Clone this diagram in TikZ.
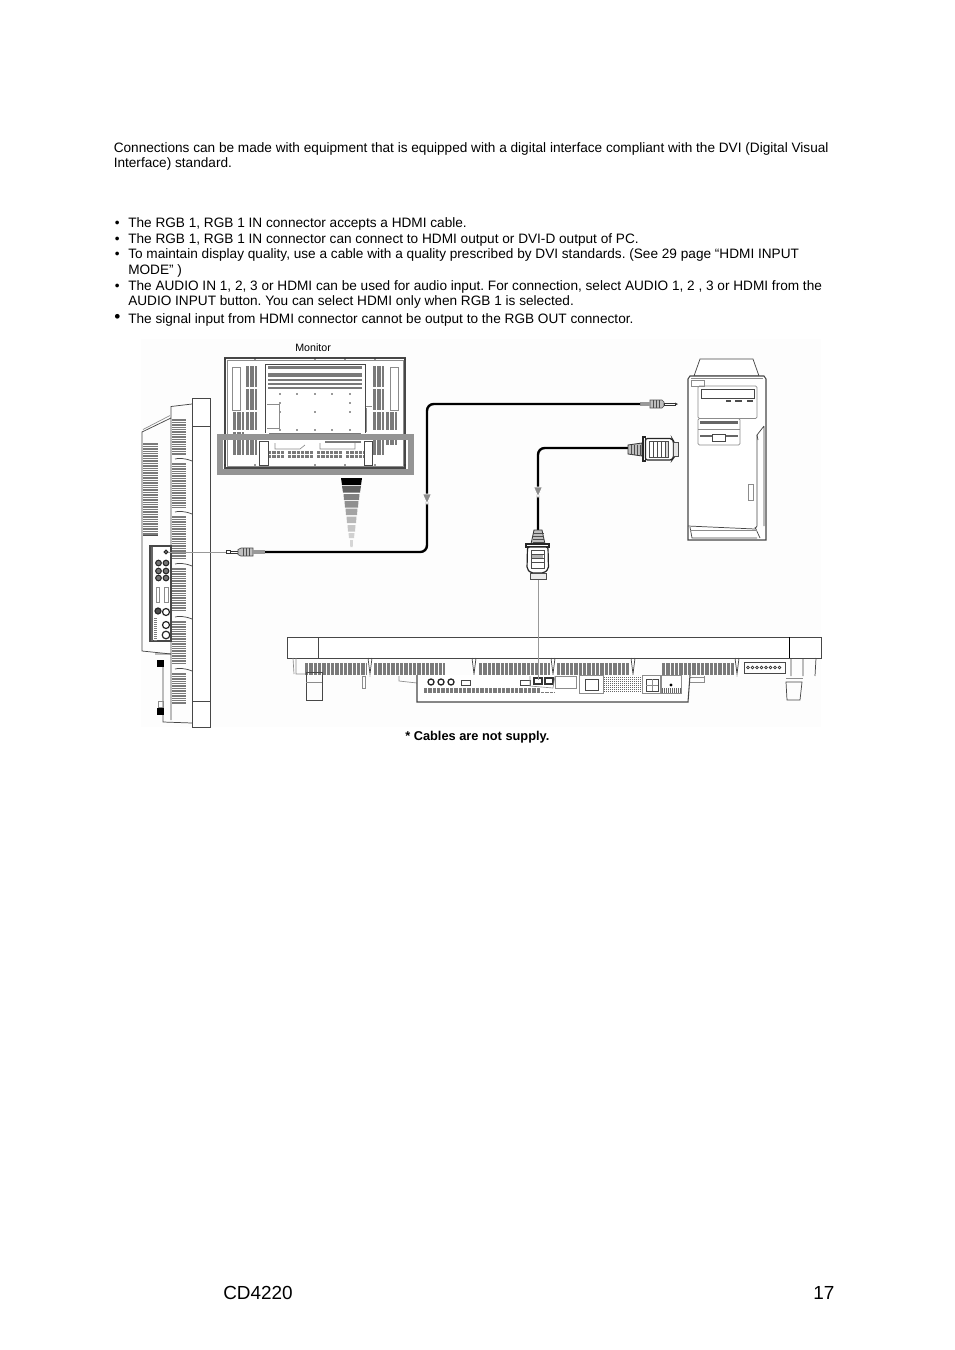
\documentclass[tikz,border=0pt]{standalone}
\usepackage{fontspec}
\setmainfont{Liberation Sans}
\frenchspacing
\newcommand{\vhat}[5]{\pgfmathsetmacro{\qn}{#1+#5}\foreach \qx in {#1,\qn,...,#2}{\draw[hatchline] (\qx,#3) -- (\qx,#4);}}
\newcommand{\hhat}[5]{\pgfmathsetmacro{\qn}{#3+#5}\foreach \qy in {#3,\qn,...,#4}{\draw[hatchline] (#1,\qy) -- (#2,\qy);}}
\tikzset{
  body/.style={anchor=base west,inner sep=0pt,font=\fontsize{10.22}{12}\selectfont},
  big/.style={anchor=base west,inner sep=0pt,font=\fontsize{14.2}{16}\selectfont},
  hatchline/.style={draw=black!52,line width=.55pt},
  ol/.style={draw=black!72,line width=.55pt},
  thin gray/.style={draw=black!45,line width=.5pt},
  cable/.style={draw=black,line width=1.8pt,rounded corners=5pt},
  lead/.style={draw=black!40,line width=.7pt},
  marker/.style={fill=black!45,draw=white,line width=.7pt},
  dotb/.style={fill=black!80,draw=none},
  port/.style={draw=black!85,fill=white,line width=.9pt},
}
\begin{document}
\begin{tikzpicture}[x=.75pt,y=-.75pt]
\useasboundingbox (0,0) rectangle (954,1350);
\fill[white] (0,0) rectangle (954,1350);
\fill[black!.8] (141,339) rectangle (821,727);
% ----- text
\node[body] (t1) at (113.5,152) {Connections can be made with equipment that is equipped with a digital interface compliant with the DVI (Digital Visual};
\node[body] (t2) at (113.5,167) {Interface) standard.};
\foreach \nm/\yy/\tx in {
 b1/227/{The RGB 1, RGB 1 IN connector accepts a HDMI cable.},
 b2/243/{The RGB 1, RGB 1 IN connector can connect to HDMI output or DVI-D output of PC.},
 b3/258/{To maintain display quality, use a cable with a quality prescribed by DVI standards. (See 29 page “HDMI INPUT},
 b5/290/{The AUDIO IN 1, 2, 3 or HDMI can be used for audio input. For connection, select AUDIO 1, 2 , 3 or HDMI from the}}{
  \node[body] (\nm) at (128,\yy) {\tx};
  \node[body] (\nm d) at (114.5,\yy) {•};
}
\node[body] (b7) at (128,323) {The signal input from HDMI connector cannot be output to the RGB OUT connector.};
\node[body,font=\fontsize{13}{14}\selectfont] (b7d) at (114,322.5) {•};
\node[body] (b4) at (128,274) {MODE” )};
\node[body] (b6) at (128,305) {AUDIO INPUT button. You can select HDMI only when RGB 1 is selected.};
\node[anchor=base west,inner sep=0pt,font=\fontsize{8}{10}\selectfont] (mon) at (295,351) {Monitor};
\node[anchor=base west,inner sep=0pt,font=\fontsize{9.6}{11}\selectfont\bfseries] (sup) at (405,740) {* Cables are not supply.};
\node[big] (model) at (223,1299) {CD4220};
\node[big] (page) at (813,1299) {17};
% ----- rear view of monitor
\draw[ol,fill=white,line width=.8pt] (225,358) rectangle (405,468);
\draw[thin gray] (227,360) rectangle (403,466);
\vhat{233}{244}{412}{430}{1.3}\vhat{233}{244}{432}{455}{1.3}
\vhat{246}{257}{366}{387}{1.3}\vhat{246}{257}{389}{410}{1.3}\vhat{246}{257}{412}{430}{1.3}\vhat{246}{257}{436}{455}{1.3}
\vhat{373}{384}{366}{387}{1.3}\vhat{373}{384}{389}{410}{1.3}\vhat{373}{384}{412}{430}{1.3}\vhat{373}{384}{436}{455}{1.3}
\vhat{386}{397}{412}{430}{1.3}\vhat{386}{397}{436}{445}{1.3}
\draw[thin gray] (232,367) rectangle (240,410);
\draw[thin gray] (390,367) rectangle (398,410);
\draw[ol] (265,364) -- (265,433) (365,364) -- (365,433) (265,364) -- (365,364);
\hhat{268}{362}{366}{369}{1.2}
\hhat{268}{362}{373}{377}{1.2}
\hhat{268}{362}{379}{381}{1.2}
\hhat{268}{362}{383}{385}{1.2}
\hhat{268}{362}{387}{388.5}{1.2}
\hhat{269}{361}{433}{435}{1}
\foreach \dx in {280,297,315,332,350}{
  \fill[dotb] (\dx,394) circle (.9);
  \fill[dotb] (\dx,430) circle (.9);}
\fill[dotb] (280,403) circle (.9) (350,403) circle (.9) (280,412) circle (.9) (315,412) circle (.9) (350,412) circle (.9);
\draw[thin gray] (267,404) -- (279,404) -- (279,428) -- (267,428);
\draw[thin gray] (366,406) -- (372,406) (366,408) -- (366,432);
\foreach \dx in {225,255,315,345,375,405}{\fill[dotb] (\dx,359) circle (.9);\fill[dotb] (\dx,465) circle (.9);}
% lower strip
\vhat{268}{284}{451}{454}{1.3}\vhat{268}{284}{455}{458}{1.3}
\vhat{288}{313}{451}{454}{1.3}\vhat{288}{313}{455}{458}{1.3}
\vhat{317}{342}{451}{454}{1.3}\vhat{317}{342}{455}{458}{1.3}
\vhat{346}{363}{451}{454}{1.3}\vhat{346}{363}{455}{458}{1.3}
\draw[ol,fill=white] (259,441) -- (259,465) -- (268,465) -- (268,441) -- cycle;
\draw[ol,fill=white] (364,441) -- (364,465) -- (372,465) -- (372,441) -- cycle;
\draw[thin gray] (275,443) -- (275,449) -- (300,449) -- (305,445)
                 (320,443) -- (320,449) -- (355,449) -- (355,442);
\hhat{325}{361}{441.5}{443}{1}
% gray highlight frame
\draw[black!42,line width=4.5pt] (220,437) rectangle (411,472);
% funnel
\fill[black] (341,478) -- (362,478) -- (361,485) -- (342,485) -- cycle;
\fill[black!62] (342,486) -- (361,486) -- (360,492.5) -- (343,492.5) -- cycle;
\fill[black!50] (343.5,494) -- (359.5,494) -- (359,500) -- (344,500) -- cycle;
\fill[black!44] (344.5,501) -- (358.5,501) -- (358,507.5) -- (345,507.5) -- cycle;
\fill[black!36] (345.5,508.5) -- (357.5,508.5) -- (357,515) -- (346,515) -- cycle;
\fill[black!28] (346.5,516.5) -- (356.5,516.5) -- (356,523) -- (347,523) -- cycle;
\fill[black!22] (347.5,525) -- (355.5,525) -- (355,531.5) -- (348,531.5) -- cycle;
\fill[black!18] (348.5,533) -- (354.5,533) -- (354,538) -- (349,538) -- cycle;
\fill[black!16] (350,540) -- (353,540) -- (352.7,547) -- (350.3,547) -- cycle;
% ----- side view of monitor
\draw[ol,fill=white] (192,398) rectangle (210,727);
\draw[ol] (192,426) -- (210,426) (192,701) -- (210,701);
\draw[ol] (192,404) -- (171,406.5) -- (171,720) ;
\draw[ol] (171,418) -- (142,432) -- (142,651) -- (171,654);
\draw[thin gray] (170,415.5) -- (143,429.5);
\hhat{172}{186}{419}{455}{1.7}
\hhat{172}{186}{463}{508}{1.7}
\hhat{172}{186}{516}{560}{1.7}
\hhat{172}{186}{568}{612}{1.7}
\hhat{172}{186}{621}{665}{1.7}
\hhat{172}{186}{673}{704}{1.7}
\foreach \ny in {457,510,562,615,667}{
  \draw[ol] (192,\ny+4) .. controls (185,\ny+1) and (178,\ny+1) .. (175,\ny+2);
}
\hhat{143}{158}{443}{535}{1.7}
\draw[black!70,line width=.6pt] (143,535) -- (158,535);
% connector panel
\draw[ol,fill=white,line width=.8pt] (150,546) -- (171,546) -- (171,641) -- (150,641) -- cycle;
\fill[black!60] (150.5,547) rectangle (153,641);
\hhat{154}{157}{618}{640}{2}
\draw[port] (166,552) circle (1.8);
\foreach \px in {158.5,166}{\foreach \py in {563,571,578}{\draw[port,fill=black!55,line width=.8pt] (\px,\py) circle (2.8);}}
\draw[thin gray,fill=white] (156,587) rectangle (159,602);
\draw[thin gray,fill=white] (164,587) rectangle (168,602);
\draw[port,fill=black!70] (158,611) circle (3);
\draw[port] (166,612) circle (3.5);
\draw[port] (166,625) circle (3.5);
\draw[port] (166,635) circle (3.8);
% base of side view
\draw[ol] (171,654) -- (155,654) (163,663) -- (163,722) -- (192,723);
\fill[black] (157,660) rectangle (164,667);
\fill[black] (157,708) rectangle (164,715);
\draw[thin gray] (158,701) rectangle (163,707);
% ----- PC
\draw[ol,fill=white] (700,359) -- (753,359) -- (759,376) -- (694,376) -- cycle;
\draw[ol,fill=white,line width=.8pt] (688,379) -- (690,376) -- (764,376) -- (766,379) -- (766,540) -- (688,540) -- cycle;
\draw[thin gray] (691,378) -- (763,378);
\draw[thin gray] (691,386) rectangle (704,380);
\draw[thin gray,rounded corners=1pt] (698,386) -- (757,386) -- (757,418.5) -- (698,418.5) -- cycle;
\draw[ol] (701,389) rectangle (754,398);
\draw[black!70,line width=1.2pt] (726,401) -- (731,401) (735,401) -- (742,401) (747,401) -- (753,401);
\draw[thin gray,rounded corners=1pt] (698,418.5) -- (740,418.5) -- (740,445) -- (698,445) -- cycle;
\draw[black!60,line width=1.6pt] (700,422.5) -- (738,422.5);
\draw[thin gray] (698,429) -- (740,429);
\draw[black!60,line width=1.5pt] (700,436) -- (738,436);
\draw[ol,fill=white] (712,434) rectangle (725,441);
\draw[ol] (757,435) -- (757,526) -- (755,529) -- (688,526);
\draw[ol] (757,435) -- (764,426) (764,426) -- (764,526);
\draw[ol] (757,435) -- (758,440);
\draw[thin gray] (748,484) rectangle (753,500);
\draw[ol] (690,527) -- (692,538) -- (757,538) (755,527) -- (760,538) ;
\draw[thin gray] (690,530) -- (757,530);
% ----- bottom view of monitor
\draw[ol,line width=.7pt,fill=white] (287,637) rectangle (821,658);
\draw[ol] (318,637) -- (318,658);
\draw[black,line width=.7pt] (789,637) -- (789,658);
\draw[thin gray] (293,658) -- (294,674) (296,658) -- (296,674) -- (305,674);
\vhat{305}{367}{663}{675}{1.3}
\vhat{374}{445}{663}{675}{1.3}
\vhat{479}{551}{663}{675}{1.3}
\vhat{557}{629}{663}{675}{1.3}
\vhat{662}{734}{663}{675}{1.3}
\foreach \nx in {370,474,553,633,737}{
  \fill[white] (\nx-3.5,659) rectangle (\nx+3.5,676);
  \draw[ol] (\nx-2,658) -- (\nx,674) -- (\nx+2,658);}
% feet
\draw[ol] (306,672) -- (322,672) -- (322,700) -- (306,700) -- cycle;
\draw[thin gray] (306,682) -- (322,682);
\draw[ol] (786,682) -- (802,682) -- (800,700) -- (787,700) -- cycle;
\draw[ol] (791,658) -- (791,676) (803,658) -- (803,676) (816,658) -- (815,676);
\draw[thin gray] (786,678) -- (803,678);
\draw[thin gray] (362,676) rectangle (365,688);
\draw[thin gray] (399,676) -- (399,681) -- (417,683);
\draw[thin gray] (689,677) rectangle (704,682);
\draw[thin gray] (704,676) -- (704,683);
\draw[ol] (744,673) rectangle (785,662);
\foreach \ex in {748,752.5,...,782}{\draw[black!80,line width=.55pt] (\ex,667.5) circle (1.3);}
% control panel
\draw[ol,line width=.8pt,fill=white] (417,675) -- (417,702) -- (688,702) -- (690,675);
\vhat{424}{555}{688}{693}{1.3}
\fill[white] (540,680) rectangle (576,692);
\draw[thin gray] (555,676) rectangle (576,688);
\draw[thin gray] (579,675) rectangle (603,693);
\draw[ol] (585,679) rectangle (598,690);
\foreach \hx in {604,606,...,640}{\draw[black!60,line width=.5pt] (\hx,675.5) -- (\hx,693);}
\foreach \hy in {676,678,...,692}{\draw[white,line width=.5pt] (604,\hy) -- (641,\hy);}
\draw[thin gray] (642,675) rectangle (660,693);
\draw[ol] (646,679) rectangle (658,691);
\draw[thin gray] (652,679) -- (652,691) (646,685) -- (658,685);
\foreach \hx in {662,664,...,680}{\draw[black!60,line width=.5pt] (\hx,688) -- (\hx,693);}
\draw[thin gray] (661,675) rectangle (681,693);
\fill[black] (671,685) circle (1.6);
\foreach \cx in {431,441,451}{\draw[black!85,line width=1pt] (\cx,682) circle (3);}
\draw[ol] (461,680) rectangle (470,685);
\draw[ol] (520,680) rectangle (530,685);
\draw[black!80,line width=1pt] (534,678) rectangle (542,684);
\draw[black!80,line width=1pt] (545,678) rectangle (553,684);
\draw[thin gray] (530,676) -- (530,686) -- (553,688) -- (555,676);
% ----- connectors on the cables
\coordinate (audioL) at (265,552);
\coordinate (audioV) at (427,480);
\coordinate (audioR) at (640,404);
\coordinate (hdmiV) at (538,530);
\coordinate (dviH) at (628,448);
\coordinate (panelAudio) at (168,552);
\coordinate (panelHdmi) at (538,680);
% left jack
\draw[lead] (panelAudio) -- (226,552);
\draw[fill=white,draw=black!80,line width=.5pt] (226,550.5) rectangle (230,553.5);
\draw[fill=white,draw=black!80,line width=.5pt] (230,551) rectangle (238,553);
\draw[fill=black!25,draw=black!70,line width=.5pt] (238,549.5) -- (241,548) -- (253,548) -- (253,556) -- (241,556) -- (238,554.5) -- cycle;
\foreach \sx in {243,246,249}{\draw[black!70,line width=.5pt] (\sx,548) -- (\sx,556);}
\node[inner sep=0pt,minimum width=9pt,minimum height=3pt,fill=black!40] (jackL) at (259,552) {};
% right jack
\draw[fill=black!25,draw=black!70,line width=.5pt] (650,400) -- (662,400) -- (664,402) -- (664,406) -- (662,408) -- (650,408) -- cycle;
\foreach \sx in {653,656,659}{\draw[black!70,line width=.5pt] (\sx,400) -- (\sx,408);}
\draw[fill=white,draw=black!80,line width=.5pt] (664,403) rectangle (675,405.5);
\draw[fill=black!80,draw=none] (675,402.5) -- (678,404) -- (675,405.5) -- cycle;
\node[inner sep=0pt,minimum width=8pt,minimum height=3pt,fill=black!40] (jackR) at (645,404) {};
% cables
\draw[cable] (audioL) -| (audioV) |- (audioR);
\draw[cable] (hdmiV) |- (dviH);
\draw[marker] (422.5,494) -- (431.5,494) -- (427,504) -- cycle;
\draw[marker] (533.5,487) -- (542.5,487) -- (538,497) -- cycle;
% DVI plug (horizontal)
\draw[fill=black!25,draw=black!80,line width=.6pt] (628,445) -- (642,443) -- (642,456) -- (628,454) -- cycle;
\foreach \sx in {631,634,637,640}{\draw[black!70,line width=.5pt] (\sx,444.5) -- (\sx,454.5);}
\draw[fill=white,draw=black!85,line width=.8pt] (643,437) rectangle (645.5,461);
\draw[fill=white,draw=black!85,line width=.9pt,rounded corners=1.5pt] (645.5,438.5) -- (672,438.5) -- (673.5,441) -- (673.5,458) -- (672,460) -- (645.5,460) -- cycle;
\draw[black!70,line width=.6pt] (649,441) rectangle (665,457);
\foreach \sx in {653,657,661}{\draw[black!70,line width=.6pt] (\sx,441) -- (\sx,457);}
\draw[fill=black!15,draw=black!70,line width=.5pt] (665,441) rectangle (668,457);
\draw[fill=black!10,draw=black!70,line width=.6pt] (673.5,442) rectangle (678,456);
% HDMI plug (vertical)
\draw[lead] (538,579) -- (panelHdmi);
\draw[fill=black!25,draw=black!80,line width=.6pt] (534,530) -- (542,530) -- (545,544) -- (531,544) -- cycle;
\foreach \sy in {533,536,539,542}{\draw[black!70,line width=.5pt] (532.5,\sy) -- (543.5,\sy);}
\draw[fill=white,draw=black!85,line width=.8pt] (526,544) rectangle (549,547);
\draw[fill=white,draw=black!85,line width=.9pt,rounded corners=1.5pt] (527.5,547) -- (548,547) -- (548.5,569) -- (544,573) -- (531,573) -- (527,569) -- cycle;
\draw[black!70,line width=.6pt] (531,550) rectangle (544,568);
\foreach \sy in {554,558,562}{\draw[black!70,line width=.6pt] (531,\sy) -- (544,\sy);}
\fill[black!30] (532,555) rectangle (543,558);
\draw[fill=black!8,draw=black!70,line width=.6pt] (530,573) rectangle (546,579);
\end{tikzpicture}
\end{document}
